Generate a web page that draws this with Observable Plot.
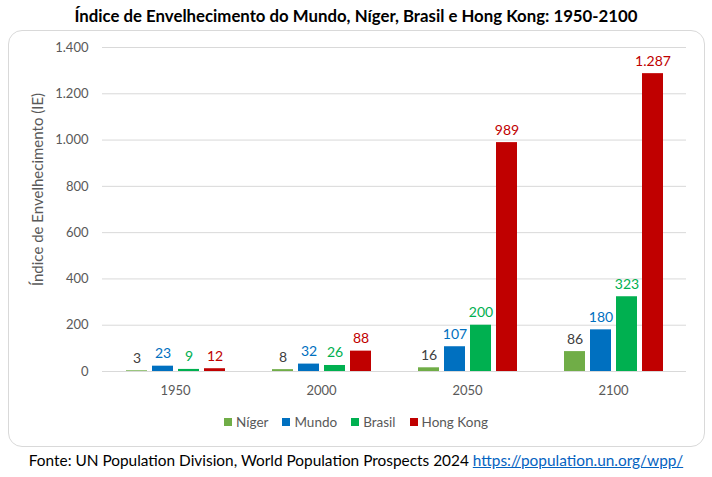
<!DOCTYPE html>
<html>
<head>
<meta charset="utf-8">
<script src="https://cdn.jsdelivr.net/npm/d3@7"></script>
<script src="https://cdn.jsdelivr.net/npm/@observablehq/plot@0.6"></script>
<style>
  body { margin: 0; width: 712px; height: 477px; background: #fff; font-family: Lato, "Open Sans", sans-serif; position: relative; overflow: hidden; }
  #title { position: absolute; top: 5px; left: 0; width: 712px; text-align: center; font-weight: bold; font-size: 16.8px; color: #000; }
  #box { position: absolute; left: 8px; top: 30px; width: 697px; height: 417px; border: 1px solid #d9d9d9; border-radius: 14px; box-sizing: border-box; }
  #chart { position: absolute; left: 0; top: 30px; }
  #legend { position: absolute; top: 414px; left: 0; width: 712px; display: flex; justify-content: center; gap: 14px; font-size: 13.5px; color: #595959; }
  #legend span.item { display: inline-flex; align-items: center; gap: 4px; }
  #legend span.sw { width: 8px; height: 8px; display: inline-block; }
  #footer { position: absolute; top: 451px; left: 0; width: 712px; text-align: center; font-size: 15.4px; color: #000; }
  #footer a { color: #0563C1; text-decoration: underline; }
</style>
</head>
<body>
<div id="title">Índice de Envelhecimento do Mundo, Níger, Brasil e Hong Kong: 1950-2100</div>
<div id="box"></div>
<div id="chart"></div>
<div id="legend"></div>
<div id="footer">Fonte: UN Population Division, World Population Prospects 2024 <a href="https://population.un.org/wpp/">https://population.un.org/wpp/</a></div>
<script>
const years = ["1950", "2000", "2050", "2100"];
const series = ["Níger", "Mundo", "Brasil", "Hong Kong"];
const niger = [3, 8, 16, 86];
const mundo = [23, 32, 107, 180];
const brasil = [9, 26, 200, 323];
const hongKong = [12, 88, 989, 1287];
const yTicks = [0, 200, 400, 600, 800, 1000, 1200, 1400];
const barColors = ["#70AD47", "#0070C0", "#00B050", "#C00000"];
const labelColors = ["#404040", "#0070C0", "#00B050", "#C00000"];

const values = [niger, mundo, brasil, hongKong];
const data = [];
years.forEach((yr, i) => series.forEach((s, j) => data.push({year: yr, series: s, value: values[j][i], bar: barColors[j], lab: labelColors[j]})));

const pt = d3.formatLocale({decimal: ",", thousands: ".", grouping: [3], currency: ["R$", ""]});
const fmt = pt.format(",d");

const chart = Plot.plot({
  width: 712,
  height: 380,
  marginTop: 17,
  marginBottom: 39,
  marginLeft: 102,
  marginRight: 26,
  style: {fontFamily: "Lato, 'Open Sans', sans-serif", background: "transparent"},
  fx: {domain: years, padding: 0, label: null},
  x: {domain: series, paddingInner: 0.2, paddingOuter: 0.85, axis: null},
  y: {domain: [0, 1400], ticks: yTicks},
  color: {type: "identity"},
  marks: [
    Plot.gridY(yTicks, {stroke: "#d9d9d9", strokeOpacity: 1}),
    Plot.axisY(yTicks, {tickSize: 0, tickPadding: 14, tickFormat: fmt, fontSize: 13, color: "#595959",
      label: "Índice de Envelhecimento (IE)", labelAnchor: "center", labelArrow: "none", labelOffset: 70}),
    Plot.axisFx({anchor: "bottom", tickSize: 0, tickPadding: 14, fontSize: 13, color: "#595959", label: null}),
    Plot.barY(data, {fx: "year", x: "series", y: "value", fill: "bar"}),
    Plot.text(data, {fx: "year", x: "series", y: "value", text: d => fmt(d.value), fill: "lab", lineAnchor: "bottom", dy: -8, fontSize: 14})
  ]
});
chart.querySelectorAll("g[aria-label='y-axis label']").forEach(g => {
  const prev = g.getAttribute("transform") || "";
  g.setAttribute("transform", "translate(0,-20) " + prev);
  g.querySelectorAll("text").forEach(t => t.style.fontSize = "15px");
});
document.getElementById("chart").appendChild(chart);

const legend = document.getElementById("legend");
series.forEach((s, j) => {
  const item = document.createElement("span");
  item.className = "item";
  const sw = document.createElement("span");
  sw.className = "sw";
  sw.style.background = barColors[j];
  item.appendChild(sw);
  item.appendChild(document.createTextNode(s));
  legend.appendChild(item);
});
</script>
</body>
</html>
